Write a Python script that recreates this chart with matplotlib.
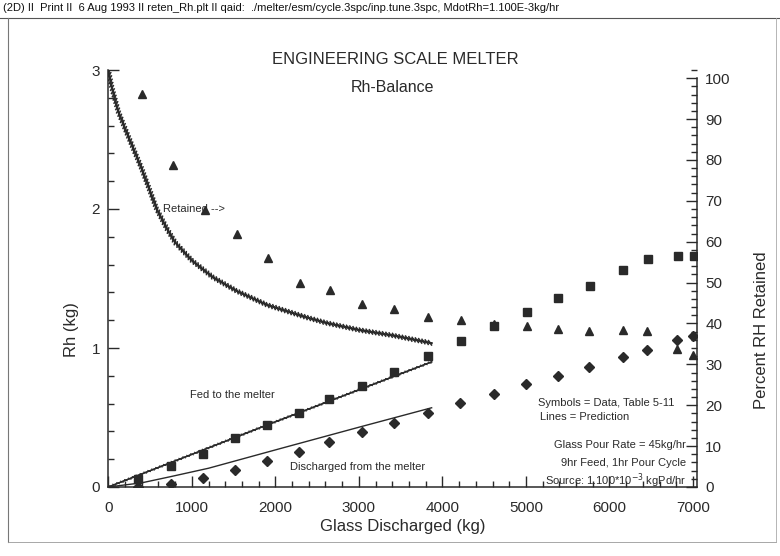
import numpy as np
import matplotlib
matplotlib.use("Agg")
from matplotlib import pyplot as plt
from matplotlib import patheffects
from matplotlib.ticker import MultipleLocator
from matplotlib.lines import Line2D

plt.rcParams['font.family'] = ['Liberation Sans', 'DejaVu Sans']

# datos (kg de vidrio descargado, kg de Rh)
x_ret = [400, 778, 1157, 1544, 1915, 2294, 2653, 3040, 3423, 3830,
         4221, 4620, 5008, 5386, 5757, 6157, 6451, 6803, 7002]
y_ret = [2.83, 2.32, 1.99, 1.82, 1.65, 1.47, 1.42, 1.32, 1.28, 1.22,
         1.20, 1.17, 1.16, 1.14, 1.12, 1.13, 1.12, 0.99, 0.95]

x_fed = [359, 750, 1137, 1516, 1896, 2282, 2645, 3036, 3423, 3822,
         4221, 4620, 5008, 5386, 5765, 6164, 6463, 6815, 7014]
y_fed = [0.057, 0.153, 0.237, 0.354, 0.445, 0.529, 0.632, 0.728, 0.828, 0.943,
         1.051, 1.159, 1.259, 1.360, 1.446, 1.564, 1.643, 1.660, 1.660]

x_dis = [359, 750, 1137, 1516, 1896, 2282, 2645, 3036, 3423, 3822,
         4213, 4620, 4999, 5378, 5757, 6157, 6451, 6803, 7002]
y_dis = [0.0, 0.02, 0.062, 0.122, 0.187, 0.254, 0.321, 0.393, 0.457, 0.534,
         0.601, 0.670, 0.738, 0.800, 0.860, 0.936, 0.989, 1.061, 1.085]

# predicciones (lineas)
xl_ret = [0, 40, 120, 220, 400, 579, 700, 800, 1000, 1250, 1537, 1900, 2375, 2614, 3000, 3411, 3871]
yl_ret = [3.0, 2.88, 2.70, 2.55, 2.29, 2.00, 1.86, 1.76, 1.63, 1.51, 1.41, 1.31, 1.22, 1.18, 1.13, 1.09, 1.035]

xl_fed = [0, 1896, 3871]
yl_fed = [0.0, 0.445, 0.90]

xl_dis = [0, 400, 742, 1200, 2050, 3000, 3871]
yl_dis = [0.0, 0.03, 0.074, 0.135, 0.275, 0.43, 0.57]

INK = "#2a2a2a"

fig = plt.figure(figsize=(7.8, 5.56), dpi=100)
ax = fig.add_axes([108.3 / 780, 69 / 556, (697 - 108.3) / 780, (487 - 70) / 556])

# linea retenida con aspecto de diente de sierra
ax.plot(xl_ret, yl_ret, color=INK, lw=1.3,
        path_effects=[patheffects.withTickedStroke(angle=135, spacing=2.4, length=0.8, linewidth=1.1),
                      patheffects.withTickedStroke(angle=-45, spacing=2.4, length=0.8, linewidth=1.1)])
ax.plot(xl_fed, yl_fed, color=INK, lw=1.0,
        path_effects=[patheffects.withTickedStroke(angle=135, spacing=3, length=0.35, linewidth=0.7),
                      patheffects.withTickedStroke(angle=-45, spacing=3, length=0.35, linewidth=0.7)])
ax.plot(xl_dis, yl_dis, color=INK, lw=1.0)

ax.plot(x_ret, y_ret, ls="none", marker="^", ms=5.5, color=INK)
ax.plot(x_fed, y_fed, ls="none", marker="s", ms=5.5, color=INK)
ax.plot(x_dis, y_dis, ls="none", marker="D", ms=5, color=INK)

ax.set_xlim(0, 7048)
ax.set_ylim(0, 3)
ax.xaxis.set_major_locator(MultipleLocator(1000))
ax.xaxis.set_minor_locator(MultipleLocator(200))
ax.yaxis.set_major_locator(MultipleLocator(1))
ax.yaxis.set_minor_locator(MultipleLocator(0.2))
ax.tick_params(which="both", direction="in", colors=INK, labelsize=11, width=1)
ax.tick_params(which="major", length=8, pad=6)
ax.tick_params(which="minor", length=4)
ax.tick_params(axis="x", pad=10)
ax.spines["top"].set_visible(False)
ax.spines["right"].set_visible(False)
for s in ["left", "bottom"]:
    ax.spines[s].set_color(INK)
    ax.spines[s].set_linewidth(1.1)

ax2 = ax.twinx()
ax2.set_ylim(0, 102)
ax2.yaxis.set_major_locator(MultipleLocator(10))
ax2.yaxis.set_minor_locator(MultipleLocator(2))
ax2.tick_params(which="both", direction="in", colors=INK, labelsize=11, width=1)
ax2.tick_params(which="major", length=8, pad=6)
ax2.tick_params(which="minor", length=4)
for s in ["top", "left", "bottom"]:
    ax2.spines[s].set_visible(False)
ax2.spines["right"].set_color(INK)
ax2.spines["right"].set_linewidth(1.1)
ax2.spines["right"].set_bounds(0, 100)

ax.set_xlabel("Glass Discharged (kg)", fontsize=12, color=INK)
ax.set_ylabel("Rh (kg)", fontsize=12, color=INK)
ax2.set_ylabel("Percent RH Retained", fontsize=12, color=INK)
ax.xaxis.set_label_coords(0.5, (487 - 519) / 417)
ax.yaxis.set_label_coords((79 - 108.3) / 588.7, (487 - 330) / 417)
ax2.yaxis.set_label_coords((754 - 108.3) / 588.7, (487 - 330) / 417)

# textos
fig.text(395 / 780, 1 - 59 / 556, "ENGINEERING SCALE MELTER", ha="center", va="center",
         fontsize=12, color=INK)
fig.text(393 / 780, 1 - 88 / 556, "Rh-Balance", ha="center", va="center",
         fontsize=11.5, color=INK)
fig.text(163 / 780, 1 - 209 / 556, "Retained -->", fontsize=8, color=INK, va="center")
fig.text(190 / 780, 1 - 395 / 556, "Fed to the melter", fontsize=8, color=INK, va="center")
fig.text(290 / 780, 1 - 467 / 556, "Discharged from the melter", fontsize=8, color=INK, va="center")
fig.text(538 / 780, 1 - 403 / 556, "Symbols = Data, Table 5-11", fontsize=8, color=INK, va="center")
fig.text(540 / 780, 1 - 417 / 556, "Lines = Prediction", fontsize=8, color=INK, va="center")
fig.text(686 / 780, 1 - 445 / 556, "Glass Pour Rate = 45kg/hr", fontsize=8, color=INK,
         va="center", ha="right")
fig.text(686 / 780, 1 - 463 / 556, "9hr Feed, 1hr Pour Cycle", fontsize=8, color=INK,
         va="center", ha="right")
fig.text(686 / 780, 1 - 481 / 556, r"Source: 1.100*10$^{-3}$ kgPd/hr", fontsize=8, color=INK,
         va="center", ha="right")

# cabecera y marco de pagina
fig.text(3 / 780, 1 - 8 / 556,
         "(2D) II  Print II  6 Aug 1993 II reten_Rh.plt II qaid:  ./melter/esm/cycle.3spc/inp.tune.3spc, MdotRh=1.100E-3kg/hr",
         fontsize=8, color="#111111", va="center")
fig.add_artist(Line2D([0, 1], [1 - 18 / 556, 1 - 18 / 556], color="#555555", lw=0.8))
fig.add_artist(Line2D([8 / 780, 8 / 780], [1 - 18 / 556, 1 - 542 / 556], color="#777777", lw=0.8))
fig.add_artist(Line2D([8 / 780, 776 / 780], [1 - 542 / 556, 1 - 542 / 556], color="#999999", lw=0.6))
fig.add_artist(Line2D([776 / 780, 776 / 780], [1 - 18 / 556, 1 - 542 / 556], color="#aaaaaa", lw=0.6))

fig.savefig("out.png", dpi=100)
plt.close(fig)
